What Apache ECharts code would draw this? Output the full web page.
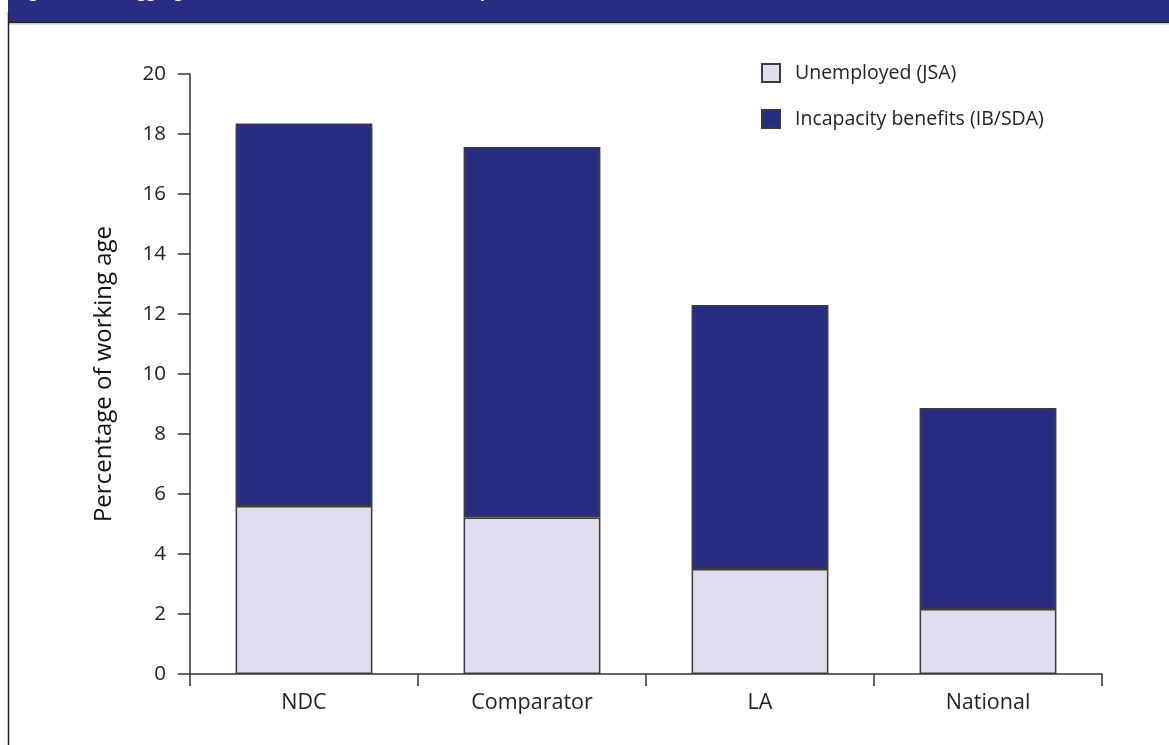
<!DOCTYPE html>
<html>
<head>
<meta charset="utf-8">
<script src="https://cdn.jsdelivr.net/npm/echarts@6/dist/echarts.min.js"></script>
<style>
html,body{margin:0;padding:0;background:#fff;}
#c{width:1169px;height:745px;}
</style>
</head>
<body>
<div id="c"></div>
<script>
const categories = ['NDC', 'Comparator', 'LA', 'National'];
const unemployedJSA = [5.6, 5.22, 3.5, 2.17];
const incapacityIB = [12.75, 12.35, 8.8, 6.7];
const seriesNames = ['Unemployed (JSA)', 'Incapacity benefits (IB/SDA)'];
const yTicks = { min: 0, max: 20, interval: 2 };
const titleText = 'Figure 3.2 Disaggregated worklessness rates: NDC, comparator, LA and national';

const chart = echarts.init(document.getElementById('c'), null, { renderer: 'canvas' });
const font = '"Open Sans", "Noto Sans", sans-serif';
chart.setOption({
  animation: false,
  backgroundColor: '#fff',
  graphic: [
    { type: 'rect', shape: { x: 8, y: 0, width: 1161, height: 22 }, style: { fill: '#282d80' }, z: 1 },
    { type: 'text', left: 14, top: -16, style: { text: titleText, fill: '#fff', font: 'bold 17px ' + font }, z: 2 },
    { type: 'line', shape: { x1: 8, y1: 22.5, x2: 1169, y2: 22.5 }, style: { stroke: '#222', lineWidth: 1.5 }, z: 3 },
    { type: 'line', shape: { x1: 8, y1: 24, x2: 1169, y2: 24 }, style: { stroke: '#ccc', lineWidth: 1 }, z: 3 },
    { type: 'line', shape: { x1: 8.5, y1: 12, x2: 8.5, y2: 745 }, style: { stroke: '#222', lineWidth: 1.5 }, z: 3 }
  ],
  legend: {
    orient: 'vertical',
    left: 756,
    top: 58,
    itemWidth: 18,
    itemHeight: 18,
    itemGap: 26,
    icon: 'rect',
    textStyle: { fontFamily: font, fontSize: 19.5, color: '#222', padding: [0, 0, 0, 10] },
    data: seriesNames
  },
  grid: { left: 190, right: 67, top: 74, bottom: 71, containLabel: false },
  xAxis: {
    type: 'category',
    data: categories,
    axisLine: { lineStyle: { color: '#333', width: 1.5 } },
    axisTick: { show: true, length: 12, inside: false, lineStyle: { color: '#333', width: 1.5 } },
    axisLabel: { fontFamily: font, fontSize: 21.5, color: '#222', margin: 18 }
  },
  yAxis: {
    type: 'value',
    min: yTicks.min,
    max: yTicks.max,
    interval: yTicks.interval,
    name: 'Percentage of working age',
    nameLocation: 'middle',
    nameGap: 74,
    nameTextStyle: { fontFamily: font, fontSize: 24, color: '#111' },
    axisLine: { show: true, lineStyle: { color: '#333', width: 1.5 } },
    axisTick: { show: true, length: 12, lineStyle: { color: '#333', width: 1.5 } },
    axisLabel: { fontFamily: font, fontSize: 20.5, color: '#222', margin: 24 },
    splitLine: { show: false }
  },
  series: [
    {
      name: seriesNames[0], type: 'bar', stack: 'total', data: unemployedJSA, barWidth: '60%',
      itemStyle: { color: '#dedeec', borderColor: '#3a3a40', borderWidth: 1.5 }
    },
    {
      name: seriesNames[1], type: 'bar', stack: 'total', data: incapacityIB, barWidth: '60%',
      itemStyle: { color: '#282d82', borderColor: '#3a3a40', borderWidth: 1.5 }
    }
  ]
});
</script>
</body>
</html>
